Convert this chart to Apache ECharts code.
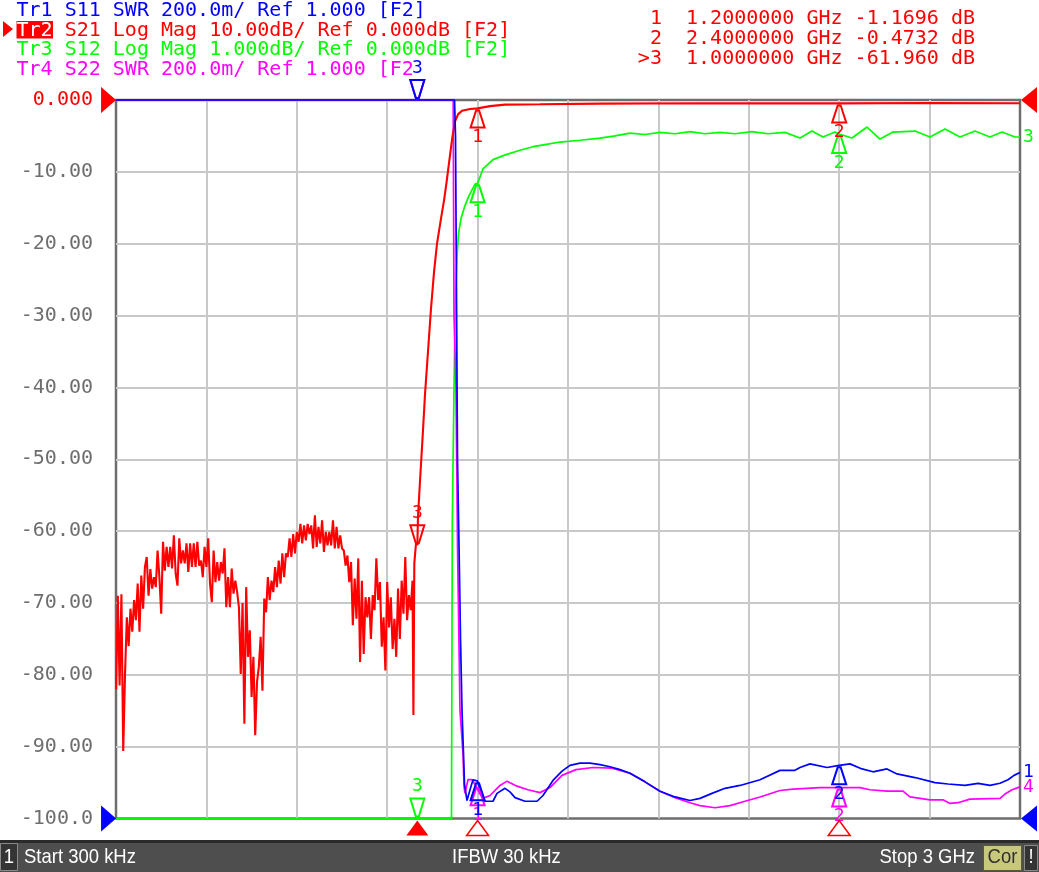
<!DOCTYPE html>
<html><head><meta charset="utf-8">
<script src="https://cdn.jsdelivr.net/npm/echarts@6/dist/echarts.min.js"></script>
<style>html,body{margin:0;padding:0;background:#fff}#c{width:1039px;height:872px}</style>
</head><body><div id="c"></div>
<script>
// ---------------- DATA ----------------
const sweepGHz = [0.0003, 3.0];           // Start 300 kHz, Stop 3 GHz
const xDivGHz = 0.3;
const yTickLabels = ['-100.0','-90.00','-80.00','-70.00','-60.00','-50.00','-40.00','-30.00','-20.00','-10.00','0.000'];

const traceHeaders = [
  'Tr1 S11 SWR 200.0m/ Ref 1.000 [F2]',
  'Tr2 S21 Log Mag 10.00dB/ Ref 0.000dB [F2]',
  'Tr3 S12 Log Mag 1.000dB/ Ref 0.000dB [F2]',
  'Tr4 S22 SWR 200.0m/ Ref 1.000 [F2]'
];
const markerReadout = [' 1  1.2000000 GHz -1.1696 dB', ' 2  2.4000000 GHz -0.4732 dB', '>3  1.0000000 GHz -61.960 dB'];
const footerStart = 'Start 300 kHz';
const footerIfbw = 'IFBW 30 kHz';
const footerStop = 'Stop 3 GHz';

// trace scales: value per division, reference value, reference position (division)
const scaleS11 = {perDiv: 0.2, ref: 1, refPos: 0};
const scaleS21 = {perDiv: 10, ref: 0, refPos: 10};
const scaleS12 = {perDiv: 1, ref: 0, refPos: 10};
const scaleS22 = {perDiv: 0.2, ref: 1, refPos: 0};

// S21 (dB) stop band, [MHz, dB]
const s21StopBandMHz = [
[0.3,-82.0],[6,-69.0],[12,-81.5],[18,-68.8],[24,-90.6],[30,-79.8],[36,-72.0],[42,-76.0],[48,-70.8],[54,-74.0],
[60,-69.6],[66,-72.4],[72,-67.3],[78,-74.0],[84,-66.2],[90,-70.8],[96,-65.0],[102,-63.6],[108,-69.0],[114,-65.3],
[120,-68.0],[126,-66.4],[132,-67.8],[138,-62.7],[144,-66.4],[150,-71.5],[156,-61.5],[162,-65.5],[168,-62.2],[174,-65.0],
[180,-62.2],[186,-65.2],[192,-60.6],[198,-65.9],[204,-67.6],[210,-61.0],[216,-64.5],[222,-62.7],[228,-64.5],[234,-61.7],
[240,-65.7],[246,-61.7],[252,-65.0],[258,-61.7],[264,-65.0],[270,-61.5],[276,-64.8],[282,-64.1],[288,-66.4],[294,-62.2],
[300,-65.0],[306,-61.0],[312,-67.3],[318,-69.9],[324,-62.7],[330,-67.1],[336,-64.3],[342,-66.9],[348,-64.3],[354,-65.9],
[360,-62.4],[366,-70.6],[372,-66.4],[378,-70.6],[384,-65.2],[390,-68.7],[396,-66.9],[402,-68.5],[408,-70.6],[414,-79.9],
[420,-70.0],[426,-86.8],[432,-67.8],[438,-77.5],[444,-73.8],[450,-83.1],[456,-77.5],[462,-88.4],[468,-81.0],[474,-78.9],
[480,-74.7],[486,-82.2],[492,-69.4],[498,-71.3],[504,-66.4],[510,-69.6],[516,-66.9],[522,-68.5],[528,-65.0],[534,-67.8],
[540,-64.1],[546,-67.3],[552,-63.1],[558,-66.4],[564,-63.1],[570,-63.6],[576,-61.0],[582,-63.6],[588,-60.4],[594,-63.1],
[600,-60.1],[606,-61.5],[612,-59.0],[618,-61.7],[624,-59.2],[630,-61.3],[636,-59.0],[642,-60.4],[648,-59.2],[654,-62.4],
[660,-57.8],[666,-62.2],[672,-59.4],[678,-61.7],[684,-58.5],[690,-62.9],[696,-60.1],[702,-62.0],[708,-60.1],[714,-62.0],
[720,-58.5],[726,-62.4],[732,-59.4],[738,-62.4],[744,-60.6],[750,-62.4],[756,-62.7],[762,-64.8],[768,-63.4],[774,-67.1],
[780,-64.3],[786,-73.1],[792,-66.6],[798,-72.2],[804,-63.8],[810,-78.2],[816,-66.9],[822,-77.1],[828,-69.2],[834,-72.0],
[840,-69.2],[846,-75.0],[852,-68.9],[858,-71.0],[864,-63.8],[870,-69.6],[876,-67.1],[882,-76.1],[888,-72.0],[894,-79.4],
[900,-67.1],[906,-73.4],[912,-69.2],[918,-76.4],[924,-72.2],[930,-77.5],[936,-68.0],[942,-75.0],[948,-66.9],[954,-71.5],
[960,-63.6],[966,-72.4],[972,-68.9],[978,-71.0],[984,-66.9],[987,-85.6],[990,-64.5],[996,-61.5],[1000,-61.96]
];
// S21 (dB) transition + pass band, [GHz, dB]
const s21PassBandGHz = [
[1.0022,-58.0],[1.0089,-53.0],[1.0188,-46.0],[1.0254,-41.0],[1.0354,-35.0],[1.0454,-29.0],[1.0553,-24.0],
[1.0653,-20.0],[1.0785,-16.5],[1.0885,-14.0],[1.0968,-11.5],[1.1051,-8.8],[1.1151,-5.5],[1.125,-3.0],
[1.135,-2.0],[1.148,-1.5],[1.175,-1.25],[1.2,-1.1696],[1.241,-0.85],[1.291,-0.65],[1.407,-0.6],
[1.606,-0.5],[1.938,-0.45],[2.4,-0.4732],[2.70,-0.42],[3.0,-0.45]
];
// S12 (dB), [GHz, dB]; -10 dB = bottom of its 1 dB/div scale
const s12GHz = [
[0.0003,-10.0],[1.1134,-10.0],[1.116,-5.9],[1.1217,-4.0],[1.125,-3.1],[1.1283,-2.6],[1.132,-2.15],[1.137,-1.85],[1.145,-1.65],
[1.158,-1.47],[1.1715,-1.33],[1.1914,-1.17],[1.2,-1.16],[1.2179,-0.96],[1.2511,-0.83],[1.2942,-0.76],[1.3407,-0.70],
[1.3838,-0.65],[1.4237,-0.62],[1.4735,-0.585],[1.5398,-0.56],[1.6062,-0.53],[1.6560,-0.50],[1.7058,-0.46],[1.7555,-0.48],
[1.8053,-0.45],[1.8551,-0.47],[1.9049,-0.44],[1.9547,-0.47],[2.0044,-0.45],[2.0542,-0.47],[2.1106,-0.44],[2.1637,-0.47],
[2.2201,-0.45],[2.2699,-0.529],[2.3097,-0.432],[2.3462,-0.515],[2.3860,-0.446],[2.4,-0.473],[2.4425,-0.529],[2.4923,-0.376],
[2.5354,-0.543],[2.5786,-0.446],[2.6515,-0.432],[2.7013,-0.515],[2.7511,-0.404],[2.8009,-0.515],[2.8507,-0.432],
[2.9004,-0.515],[2.9403,-0.446],[2.9834,-0.515],[3.0,-0.515]
];
// S11 (SWR), [GHz, SWR]; 3.0 = top of scale
const s11GHz = [
[0.0003,3.0],[1.1234,3.0],[1.1267,2.9],[1.1333,2.0],[1.1383,1.76],[1.1433,1.50],[1.1483,1.30],[1.1532,1.18],
[1.1565,1.096],[1.1648,1.05],[1.1748,1.08],[1.1847,1.108],[1.2,1.104],[1.2113,1.07],[1.2246,1.048],[1.2511,1.048],
[1.2644,1.07],[1.2909,1.084],[1.3075,1.074],[1.3241,1.058],[1.3573,1.048],[1.3971,1.048],[1.4170,1.064],[1.4502,1.106],
[1.4801,1.132],[1.5066,1.148],[1.5398,1.154],[1.5730,1.154],[1.6062,1.15],[1.6394,1.144],[1.6726,1.136],[1.7058,1.126],
[1.7555,1.102],[1.8053,1.076],[1.8551,1.06],[1.9049,1.05],[1.9381,1.056],[1.9779,1.07],[2.0211,1.084],[2.0708,1.092],
[2.1372,1.108],[2.2035,1.134],[2.2533,1.134],[2.2699,1.142],[2.3031,1.152],[2.3595,1.142],[2.4,1.148],[2.4358,1.152],
[2.4757,1.138],[2.5122,1.13],[2.5586,1.138],[2.5918,1.124],[2.6515,1.114],[2.7179,1.10],[2.7611,1.096],[2.8175,1.092],
[2.8606,1.098],[2.9004,1.092],[2.9336,1.098],[2.9602,1.108],[2.9801,1.12],[3.0,1.128]
];
// S22 (SWR), [GHz, SWR]
const s22GHz = [
[0.0003,3.0],[1.119,3.0],[1.1217,2.4],[1.1283,2.2],[1.1333,1.76],[1.1416,1.30],[1.1516,1.18],[1.1549,1.09],
[1.1582,1.07],[1.1681,1.108],[1.1814,1.108],[1.1947,1.09],[1.2080,1.068],[1.2179,1.056],[1.2412,1.064],[1.2743,1.092],
[1.2976,1.104],[1.3308,1.09],[1.3673,1.08],[1.4071,1.072],[1.4403,1.086],[1.4801,1.12],[1.5265,1.136],[1.5830,1.142],
[1.6460,1.14],[1.7058,1.126],[1.7555,1.102],[1.8053,1.076],[1.8551,1.058],[1.9049,1.044],[1.9381,1.036],[1.9879,1.03],
[2.0376,1.036],[2.0874,1.048],[2.1372,1.06],[2.2035,1.078],[2.2467,1.082],[2.3363,1.086],[2.4,1.086],[2.4690,1.086],
[2.5022,1.08],[2.5586,1.076],[2.6117,1.076],[2.6350,1.06],[2.7013,1.052],[2.7445,1.052],[2.7677,1.042],[2.7943,1.044],
[2.8341,1.054],[2.9336,1.056],[2.9502,1.068],[2.9735,1.08],[3.0,1.088]
];

// markers
const markerFreqsGHz = [1.2, 2.4, 1.0];
const markerNames = ['1', '2', '3'];
const activeMarker = 2;
const s21MarkerDb = [-1.1696, -0.4732, -61.960];
const s12MarkerDb = [-1.16, -0.473, -10.0];
const s11MarkerSwr = [1.104, 1.148, 3.0];
const s22MarkerSwr = [1.09, 1.086, 3.0];

// ---------------- STYLE ----------------
const MONO = '"DejaVu Sans Mono", "Liberation Mono", monospace';
const SANS = '"Liberation Sans", Arial, sans-serif';
const BLUE = '#0000ff', RED = '#ff0000', GREEN = '#00ff00', MAG = '#ff00ff';
const GRID = '#c8c8c8', FRAME = '#6e6e6e', LABEL = '#6e6e6e';
const CW = 12.04; // mono char advance at 20px

function toDisp(sc) {
  return v => {
    const d = (v - sc.ref) / sc.perDiv * 10 + (-100 + sc.refPos * 10);
    return Math.max(-100, Math.min(0, d));
  };
}
const dS11 = toDisp(scaleS11), dS21 = toDisp(scaleS21), dS12 = toDisp(scaleS12), dS22 = toDisp(scaleS22);

const s21All = s21StopBandMHz.map(([m, d]) => [m / 1000, d]).concat(s21PassBandGHz);

function lineSeries(name, pts, disp, color, z, endText, width) {
  return {
    name, type: 'line', z, silent: true, animation: false, clip: false,
    symbol: 'none', showSymbol: false,
    data: pts.map(([f, v]) => [f, disp(v)]),
    lineStyle: {color, width: width || 1.7}, itemStyle: {color},
    endLabel: endText ? {show: true, formatter: endText, color, fontFamily: MONO, fontSize: 18, distance: 3} : {show: false}
  };
}

function markerSeries(values, disp, color, z, labelBg) {
  return {
    type: 'custom', z, silent: true, animation: false, clip: false,
    data: markerFreqsGHz.map((f, i) => [f, disp(values[i])]),
    encode: {x: 0, y: 1},
    renderItem(params, api) {
      const i = params.dataIndex;
      const p = api.coord([api.value(0), api.value(1)]);
      const x = p[0], y = p[1];
      const act = i === activeMarker;
      const pts = act
        ? [[x - 7, y - 20], [x + 7, y - 20], [x + 1.5, y - 2], [x - 1.5, y - 2]]
        : [[x - 1.5, y + 2], [x + 1.5, y + 2], [x + 7, y + 19], [x - 7, y + 19]];
      const ts = {text: markerNames[i], x, y: act ? y - 32 : y + 29, fill: color, font: '18px ' + MONO,
        align: 'center', verticalAlign: 'middle', textAlign: 'center', textVerticalAlign: 'middle'};
      if (act && labelBg) { ts.backgroundColor = labelBg; ts.padding = [1, 0, 1, 0]; }
      return {type: 'group', children: [
        {type: 'polygon', shape: {points: pts}, style: {fill: 'none', stroke: color, lineWidth: 2}},
        {type: 'text', style: ts}
      ]};
    }
  };
}

// reference-level indicators (left & right edges)
const refPoints = [[sweepGHz[0], dS21(scaleS21.ref)], [sweepGHz[0], dS11(scaleS11.ref)],
                   [sweepGHz[1], dS21(scaleS21.ref)], [sweepGHz[1], dS11(scaleS11.ref)]];
const refColors = [RED, BLUE, RED, BLUE];
const refSeries = {
  type: 'custom', z: 20, silent: true, animation: false, clip: false,
  data: refPoints, encode: {x: 0, y: 1},
  renderItem(params, api) {
    const i = params.dataIndex;
    const p = api.coord([api.value(0), api.value(1)]);
    const left = i < 2;
    const x = p[0], y = p[1];
    const pts = left ? [[x, y], [x - 15, y - 13], [x - 15, y + 13]] : [[x + 1, y], [x + 17, y - 13], [x + 17, y + 13]];
    return {type: 'polygon', shape: {points: pts}, style: {fill: refColors[i]}};
  }
};
// stimulus marker indicators along the bottom
const stimSeries = {
  type: 'custom', z: 20, silent: true, animation: false, clip: false,
  data: markerFreqsGHz.map(f => [f, -100]), encode: {x: 0, y: 1},
  renderItem(params, api) {
    const i = params.dataIndex;
    const p = api.coord([api.value(0), api.value(1)]);
    const x = p[0], y = p[1];
    const pts = [[x, y + 2], [x + 11, y + 17], [x - 11, y + 17]];
    const act = i === activeMarker;
    return {type: 'polygon', shape: {points: pts},
      style: act ? {fill: RED} : {fill: 'none', stroke: RED, lineWidth: 1.5}};
  }
};

// header / footer graphics
const hdrY = [11, 30.5, 50, 69.5];
const graphics = [];
const hdrStyle = (text, fill) => ({text, font: '20px ' + MONO, fill, verticalAlign: 'middle', textVerticalAlign: 'middle'});
graphics.push({type: 'text', x: 16.5, y: hdrY[0], style: hdrStyle(traceHeaders[0], BLUE)});
graphics.push({type: 'polygon', shape: {points: [[3, 21], [13, 29], [3, 37]]}, style: {fill: RED}});
graphics.push({type: 'rect', shape: {x: 16.5, y: 21, width: 36.5, height: 17.5}, style: {fill: RED}});
graphics.push({type: 'text', x: 16.5, y: hdrY[1], style: hdrStyle(traceHeaders[1].slice(0, 3), '#ffffff')});
graphics.push({type: 'text', x: 16.5 + 4 * CW, y: hdrY[1], style: hdrStyle(traceHeaders[1].slice(4), RED)});
graphics.push({type: 'text', x: 16.5, y: hdrY[2], style: hdrStyle(traceHeaders[2], GREEN)});
graphics.push({type: 'text', x: 16.5, y: hdrY[3], style: hdrStyle(traceHeaders[3], MAG)});
const roY = [18.5, 38.5, 58.5];
markerReadout.forEach((t, i) => graphics.push({type: 'text', x: 975, y: roY[i],
  style: {text: t.trim(), font: '20px ' + MONO, fill: RED, align: 'right', textAlign: 'right', verticalAlign: 'middle', textVerticalAlign: 'middle'}}));
// footer
graphics.push({type: 'rect', shape: {x: 0, y: 840, width: 1039, height: 32}, style: {fill: '#2a2a2a'}});
graphics.push({type: 'rect', shape: {x: 0, y: 843, width: 1039, height: 29}, style: {fill: '#4e4e4e'}});
graphics.push({type: 'rect', shape: {x: 0.5, y: 843.5, width: 17, height: 27}, style: {fill: '#343434', stroke: '#8a8a8a', lineWidth: 1}});
const ft = (text, x, align, color) => ({type: 'text', x, y: 857.5, scaleX: 0.88,
  style: {text, font: '21px ' + SANS, fill: color || '#ffffff', align, textAlign: align, verticalAlign: 'middle', textVerticalAlign: 'middle'}});
graphics.push(ft('1', 9, 'center'));
graphics.push(ft(footerStart, 24, 'left'));
graphics.push(ft(footerIfbw, 452, 'left'));
graphics.push(ft(footerStop, 975, 'right'));
graphics.push({type: 'rect', shape: {x: 983.5, y: 845.5, width: 38, height: 25}, style: {fill: '#c8c87c', stroke: '#5a5a3a', lineWidth: 1}});
graphics.push(ft('Cor', 1002.5, 'center', '#303030'));
graphics.push({type: 'rect', shape: {x: 1024.5, y: 845.5, width: 13, height: 25}, style: {fill: '#343434', stroke: '#8a8a8a', lineWidth: 1}});
graphics.push(ft('!', 1031, 'center'));

const chart = echarts.init(document.getElementById('c'), null, {renderer: 'canvas'});
chart.setOption({
  animation: false,
  backgroundColor: '#ffffff',
  grid: {left: 116, right: 19, top: 100, bottom: 53.5, show: true, borderColor: FRAME, borderWidth: 2.5,
         backgroundColor: '#ffffff', outerBoundsMode: 'none', containLabel: false},
  xAxis: {type: 'value', min: 0, max: sweepGHz[1], interval: xDivGHz,
    axisLine: {show: false}, axisTick: {show: false}, axisLabel: {show: false},
    splitLine: {show: true, showMinLine: false, showMaxLine: false, lineStyle: {color: GRID, width: 2}}},
  yAxis: {type: 'value', min: -100, max: 0, interval: 10,
    axisLine: {show: false}, axisTick: {show: false},
    axisLabel: {margin: 23, fontFamily: MONO, fontSize: 20,
      formatter: v => yTickLabels[Math.round((Number(v) + 100) / 10)],
      color: v => Number(v) === 0 ? RED : LABEL},
    splitLine: {show: true, showMinLine: false, showMaxLine: false, lineStyle: {color: GRID, width: 2}}},
  series: [
    lineSeries('S12', s12GHz, dS12, GREEN, 2, '3'),
    lineSeries('S22', s22GHz, dS22, MAG, 3, '4'),
    lineSeries('S21', s21All, dS21, RED, 4, null, 2.1),
    lineSeries('S11', s11GHz, dS11, BLUE, 5, '1'),
    markerSeries(s12MarkerDb, dS12, GREEN, 10),
    markerSeries(s22MarkerSwr, dS22, MAG, 11),
    markerSeries(s21MarkerDb, dS21, RED, 12),
    markerSeries(s11MarkerSwr, dS11, BLUE, 13, '#ffffff'),
    refSeries, stimSeries
  ],
  graphic: graphics
});
</script></body></html>
